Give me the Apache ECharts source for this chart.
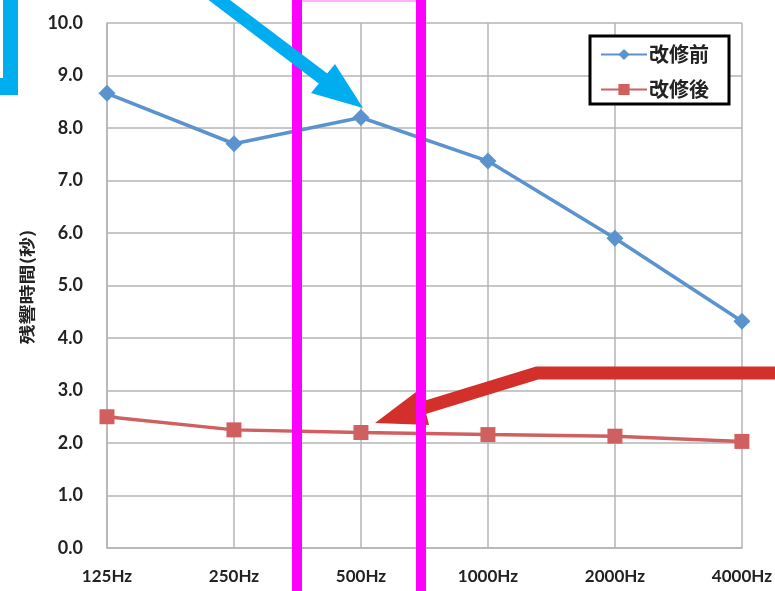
<!DOCTYPE html>
<html>
<head>
<meta charset="utf-8">
<script src="https://cdn.jsdelivr.net/npm/echarts@6/dist/echarts.min.js"></script>
<style>html,body{margin:0;padding:0;background:#fff;}#c{width:775px;height:591px;}</style>
</head>
<body>
<div id="c"></div>
<script>
const categories = ['125Hz', '250Hz', '500Hz', '1000Hz', '2000Hz', '4000Hz'];
const before = [8.66, 7.70, 8.20, 7.37, 5.90, 4.32];
const after = [2.50, 2.25, 2.20, 2.16, 2.13, 2.03];
const seriesNames = ['改修前', '改修後'];
const yAxisTitle = '残響時間(秒)';

const chart = echarts.init(document.getElementById('c'), null, {renderer: 'canvas'});
const labelFont = 'Lato, "Open Sans", sans-serif';
const cjkFont = '"Noto Sans CJK JP", sans-serif';
const gridColor = '#b4b4b4';
const cyan = '#00aeef';
const red = '#d3302c';
const magenta = '#ff00ff';

chart.setOption({
  animation: false,
  backgroundColor: '#fff',
  grid: {left: 107, right: 33, top: 23, bottom: 43},
  legend: {
    orient: 'vertical',
    left: 590, top: 36,
    padding: [8, 20, 4, 10],
    itemGap: 14,
    itemWidth: 46, itemHeight: 14,
    borderColor: '#000', borderWidth: 3,
    backgroundColor: '#fff',
    textStyle: {fontFamily: cjkFont, fontSize: 20, lineHeight: 21, fontWeight: 'bold', color: '#222', padding: [0, 0, 0, -3]},
    data: seriesNames
  },
  xAxis: {
    type: 'category',
    data: categories,
    boundaryGap: false,
    axisLine: {lineStyle: {color: gridColor, width: 1.5}},
    axisTick: {show: false},
    splitLine: {show: true, lineStyle: {color: gridColor, width: 1.5}},
    axisLabel: {fontFamily: labelFont, fontWeight: 'bold', fontSize: 17, color: '#222', margin: 20}
  },
  yAxis: {
    type: 'value',
    min: 0, max: 10, interval: 1,
    axisLine: {show: true, lineStyle: {color: gridColor, width: 1.5}},
    axisTick: {show: false},
    splitLine: {lineStyle: {color: gridColor, width: 1.5}},
    axisLabel: {fontFamily: labelFont, fontWeight: 'bold', fontSize: 18, color: '#222', margin: 24,
      formatter: v => v.toFixed(1)}
  },
  series: [
    {
      name: seriesNames[0], type: 'line', data: before,
      symbol: 'diamond', symbolSize: 17,
      lineStyle: {color: '#5b93cf', width: 3.5},
      itemStyle: {color: '#5b93cf'},
      z: 3
    },
    {
      name: seriesNames[1], type: 'line', data: after,
      symbol: 'rect', symbolSize: 15,
      lineStyle: {color: '#d06060', width: 3.5},
      itemStyle: {color: '#d06060'},
      z: 3
    }
  ],
  graphic: [
    // y-axis title
    {type: 'text', x: 27, y: 287, rotation: Math.PI / 2, scaleX: 1.25,
      style: {text: yAxisTitle, font: 'bold 16px ' + cjkFont, fill: '#222', align: 'center', verticalAlign: 'middle'}, z: 50},
    // cyan corner at top-left
    {type: 'rect', shape: {x: 3, y: 0, width: 15, height: 95}, style: {fill: cyan}, z: 100},
    {type: 'rect', shape: {x: 0, y: 78, width: 18, height: 17}, style: {fill: cyan}, z: 100},
    // pink top line
    {type: 'line', shape: {x1: 300, y1: 1, x2: 418, y2: 1}, style: {stroke: '#ffb3ff', lineWidth: 2}, z: 99},
    // red arrow
    {type: 'polyline', shape: {points: [[780, 373], [537, 373], [423, 408]]}, style: {stroke: red, lineWidth: 13, fill: null, lineJoin: 'miter'}, z: 100},
    {type: 'polygon', shape: {points: [[375, 423], [420, 389], [429, 425]]}, style: {fill: red}, z: 100},
    // magenta vertical lines
    {type: 'rect', shape: {x: 292, y: 0, width: 10, height: 591}, style: {fill: magenta}, z: 101},
    {type: 'rect', shape: {x: 416, y: 0, width: 10, height: 591}, style: {fill: magenta}, z: 101},
    // cyan arrow
    {type: 'line', shape: {x1: 210, y1: -7, x2: 325, y2: 80}, style: {stroke: cyan, lineWidth: 13}, z: 102},
    {type: 'polygon', shape: {points: [[363, 108], [335, 64], [311, 93]]}, style: {fill: cyan}, z: 102}
  ]
});
</script>
</body>
</html>
